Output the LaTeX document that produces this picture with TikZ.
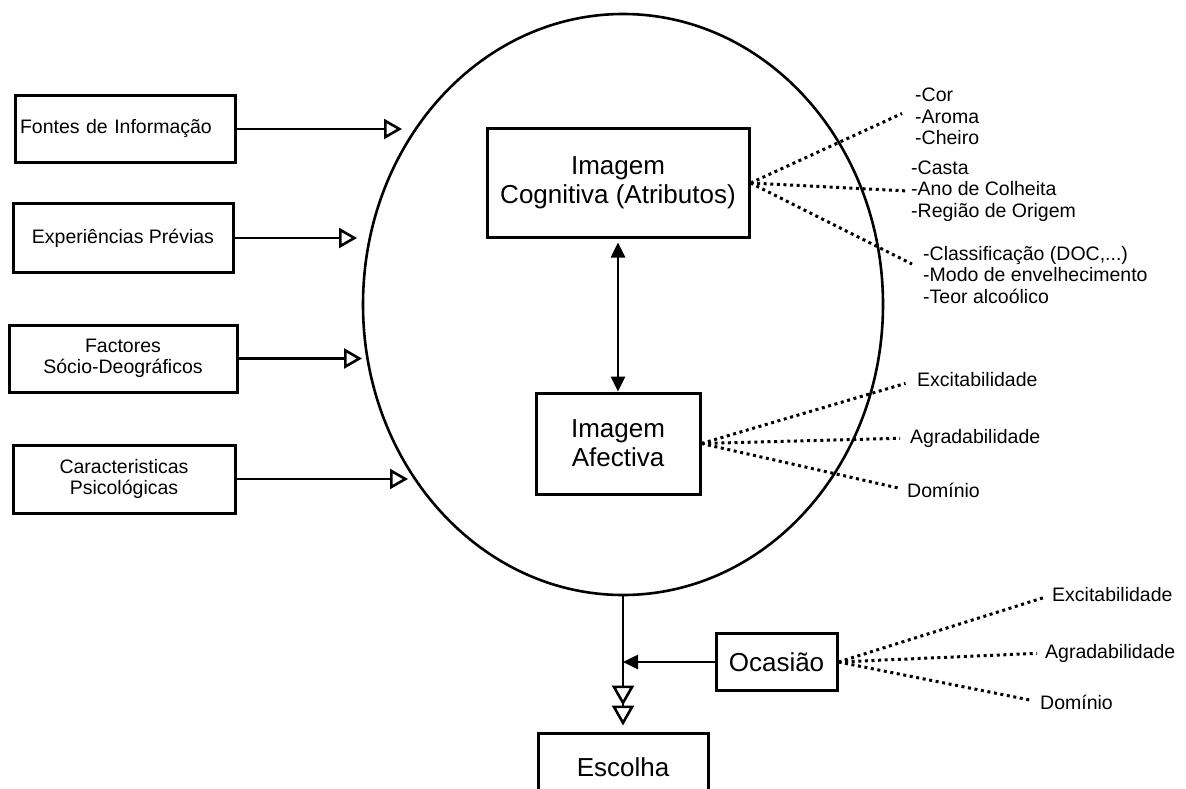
\documentclass[tikz,border=0pt]{standalone}
\usepackage{fontspec}
\setmainfont{Liberation Sans}
\usetikzlibrary{arrows.meta}
\usetikzlibrary{shapes.geometric}

\begin{document}
\begin{tikzpicture}[x=1pt, y=-1pt,
  box/.style={draw, line width=3pt, inner sep=0pt, align=center, font=\fontsize{19.5}{21.5}\selectfont},
  bigbox/.style={draw, line width=3pt, inner sep=0pt, align=center, font=\fontsize{26}{29}\selectfont},
  lbl/.style={inner sep=0pt, align=left, anchor=west, font=\fontsize{19.5}{21.5}\selectfont},
  dots/.style={line width=3pt, dash pattern=on 3pt off 3.6pt},
  inarrow/.style={line width=2.6pt, -{Triangle[open, fill=white, length=18pt, width=20pt]}}]

\useasboundingbox (0,0) rectangle (1186,789);
\clip (0,0) rectangle (1186,789);

% Draw the big ellipse
\node[draw, ellipse, line width=2.6pt, inner sep=0pt, minimum width=520pt, minimum height=581pt] (ell) at (623,304.5) {};

% input boxes on the left
\node[box, text width=210pt, align=left, minimum width=220pt, minimum height=67pt] (fontes) at (125,129) {Fontes de Informação};
\node[box, minimum width=220pt, minimum height=69pt] (exper) at (123,238) {Experiências Prévias};
\node[box, minimum width=228pt, minimum height=67pt] (factor) at (123,358.5) {Factores\\Sócio-Deográficos};
\node[box, minimum width=222pt, minimum height=68pt] (psico) at (124,479) {Caracteristicas\\Psicológicas};

\coordinate (t1) at (402,129);
\coordinate (t2) at (357,238);
\coordinate (t3) at (362,358.5);
\coordinate (t4) at (408,479);

\draw[inarrow] (fontes) -- (t1);
\draw[inarrow] (exper) -- (t2);
\draw[inarrow] (factor) -- (t3);
\draw[inarrow] (psico) -- (t4);

% the two images inside
\node[bigbox, minimum width=262pt, minimum height=108pt] (cog) at (618,183) {Imagem\\Cognitiva (Atributos)};
\node[bigbox, minimum width=164pt, minimum height=101pt] (aff) at (618,443.5) {Imagem\\Afectiva};

\draw[line width=2.6pt, {Triangle[length=15pt, width=14pt]}-{Triangle[length=15pt, width=14pt]}, shorten <=4pt] (cog) -- (aff);

% attributes of the cognitive image
\node[lbl] (sens) at (915,116.5) {-Cor\\-Aroma\\-Cheiro};
\node[lbl] (orig) at (911,191) {-Casta\\-Ano de Colheita\\-Região de Origem};
\node[lbl] (tipo) at (923,275) {-Classificação (DOC,...)\\-Modo de envelhecimento\\-Teor alcoólico};

\draw[dots] (cog.east) -- ([xshift=-13pt, yshift=3pt]sens.west);
\draw[dots] (cog.east) -- ([xshift=-3pt]orig.west);
\draw[dots] (cog.east) -- ([xshift=-11pt, yshift=11pt]tipo.west);

% dimensions of the affective image
\node[lbl] (excA) at (917,380) {Excitabilidade};
\node[lbl] (agrA) at (910,438) {Agradabilidade};
\node[lbl] (domA) at (907,490) {Domínio};

\draw[dots, shorten >=12pt] (aff.east) -- (excA.west);
\draw[dots, shorten >=10pt] (aff.east) -- (agrA.west);
\draw[dots, shorten >=9pt] (aff.east) -- (domA.west);

% occasion and choice
\node[bigbox, minimum width=121pt, minimum height=57pt] (oca) at (776.5,662) {Ocasião};
\node[bigbox, minimum width=170pt, minimum height=68pt] (esc) at (623,767) {Escolha};

\draw[line width=2.6pt, -{Triangle[open, fill=white, length=20pt, width=22pt] Triangle[open, fill=white, length=20pt, width=22pt]}, shorten >=6pt] (ell.south) -- (esc.north);
\draw[line width=2.6pt, -{Triangle[length=15pt, width=14pt]}] (oca) -- (oca -| ell.south);

\node[lbl] (excO) at (1052,595) {Excitabilidade};
\node[lbl] (agrO) at (1045,653) {Agradabilidade};
\node[lbl] (domO) at (1040,702) {Domínio};

\draw[dots, shorten >=9pt] (oca.east) -- (excO.west);
\draw[dots, shorten >=8pt] (oca.east) -- (agrO.west);
\draw[dots, shorten >=8pt] (oca.east) -- (domO.west);

\end{tikzpicture}
\end{document}
